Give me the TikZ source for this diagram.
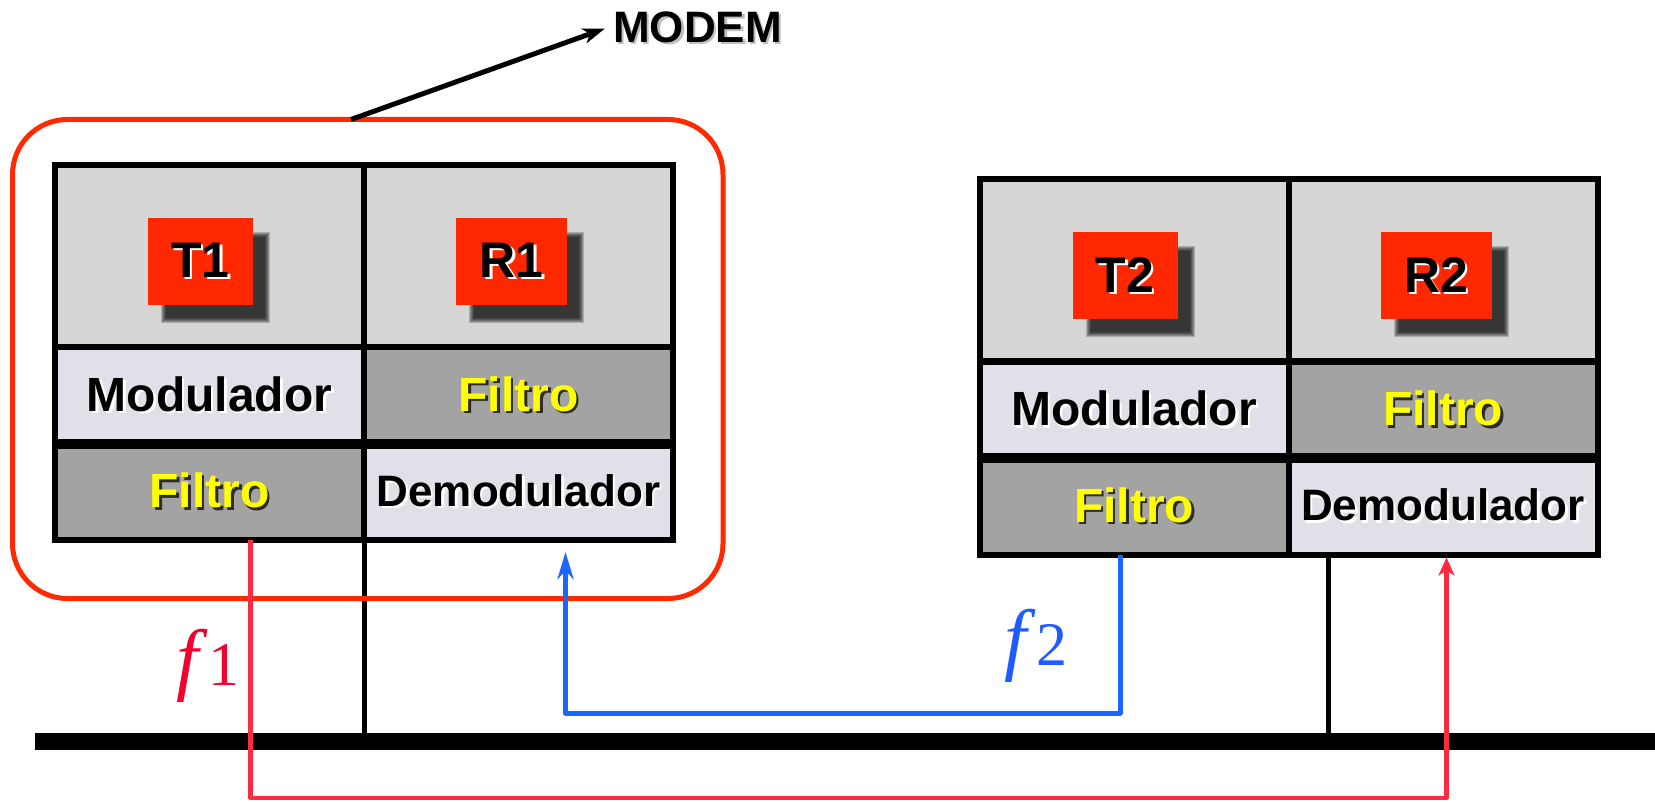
\documentclass[tikz,border=0pt]{standalone}
\usepackage{fontspec}
\setmainfont{Liberation Sans}
\newfontfamily\serifface{Liberation Serif}
\usetikzlibrary{arrows.meta,calc}

\definecolor{boxred}{HTML}{FF2A00}
\definecolor{sqred}{HTML}{FF2800}
\definecolor{linkred}{HTML}{FF2A40}
\definecolor{labred}{HTML}{F2002E}
\definecolor{linkblue}{HTML}{1A66FF}
\definecolor{labblue}{HTML}{1F5CFF}
\definecolor{cellgray}{HTML}{D6D6D6}
\definecolor{celllight}{HTML}{E0E0E8}
\definecolor{celldark}{HTML}{A3A3A3}
\definecolor{textyellow}{HTML}{FFFF00}
\definecolor{shadowdark}{HTML}{2A2A2A}

% text with an offset copy behind it
\newcommand\shd[3]{\leavevmode\rlap{\kern2.5pt\raisebox{-2.5pt}{\color{#2}#3}}{\color{#1}#3}}
% soft shadow under a square: x, y, width, height of the square
\newcommand\sqshadow[4]{%
  \foreach \k in {1,...,6}{%
    \fill[black, opacity=0.2] (#1+12+\k,#2+13+\k) rectangle (#1+#3+18-\k,#2+#4+19-\k);}}
% frequency label: italic f followed by an upright digit
\newcommand\freq[1]{{\fontsize{80}{84}\selectfont\serifface\itshape f}\kern10pt{\fontsize{62}{66}\selectfont\serifface #1}}

\tikzset{
  cell/.style={draw=black, line width=6pt, minimum width=309pt, anchor=north west,
    inner sep=0pt, outer sep=0pt, font=\fontsize{48}{56}\selectfont\bfseries},
  demo/.style={font=\fontsize{44}{52}\selectfont\bfseries},
  rowsep/.style={draw=black, line width=10pt},
  sq/.style={fill=sqred, anchor=north west, minimum height=87pt, inner sep=0pt,
    outer sep=0pt, font=\fontsize{50}{58}\selectfont\bfseries},
  tap/.style={draw=black, line width=5pt},
  busline/.style={draw=black, line width=17pt},
  f1line/.style={draw=linkred, line width=4.5pt, line join=round,
    -{Stealth[length=18pt,width=16pt,inset=5pt]}, shorten >=3pt},
  f2line/.style={draw=linkblue, line width=5pt, line join=round,
    -{Stealth[length=27pt,width=16pt,inset=8pt]}, shorten >=12pt},
  callout/.style={draw=black, line width=5pt, -{Stealth[length=22pt,width=15pt,inset=6pt]}},
  flabel/.style={anchor=base west, inner sep=0pt, outer sep=0pt}
}

\begin{document}
\begin{tikzpicture}[x=1pt, y=-1pt]
\useasboundingbox (0,0) rectangle (1655,802);

% ---- left modem block ----
\node[cell, fill=cellgray, minimum height=182pt] (LT) at (55,165) {};
\node[cell, fill=cellgray, minimum height=182pt] (LR) at (364,165) {};
\node[cell, fill=celllight, minimum height=96.5pt] (LM) at (55,347) {\shd{black}{white}{Modulador}};
\node[cell, fill=celldark, minimum height=96.5pt] (LF1) at (364,347) {\shd{textyellow}{shadowdark}{Filtro}};
\node[cell, fill=celldark, minimum height=96.5pt] (LF2) at (55,443.5) {\shd{textyellow}{shadowdark}{Filtro}};
\node[cell, demo, fill=celllight, minimum height=96.5pt] (LD) at (364,443.5) {\shd{black}{white}{Demodulador}};
\draw[rowsep] (LM.south west) -- (LF1.south east);

% ---- right modem block ----
\node[cell, fill=cellgray, minimum height=182pt] (RT) at (979.5,179.5) {};
\node[cell, fill=cellgray, minimum height=182pt] (RR) at (1288.5,179.5) {};
\node[cell, fill=celllight, minimum height=96.5pt] (RM) at (979.5,361.5) {\shd{black}{white}{Modulador}};
\node[cell, fill=celldark, minimum height=96.5pt] (RF1) at (1288.5,361.5) {\shd{textyellow}{shadowdark}{Filtro}};
\node[cell, fill=celldark, minimum height=96.5pt] (RF2) at (979.5,458) {\shd{textyellow}{shadowdark}{Filtro}};
\node[cell, demo, fill=celllight, minimum height=96.5pt] (RD) at (1288.5,458) {\shd{black}{white}{Demodulador}};
\draw[rowsep] (RM.south west) -- (RF1.south east);

% ---- transmitter / receiver tags ----
\sqshadow{148}{218}{105}{87}
\node[sq, minimum width=105pt] (T1) at (148,218) {\shd{black}{white}{T1}};
\sqshadow{456}{218}{111}{87}
\node[sq, minimum width=111pt] (R1) at (456,218) {\shd{black}{white}{R1}};
\sqshadow{1072.5}{232.5}{105}{87}
\node[sq, minimum width=105pt] (T2) at (1072.5,232.5) {\shd{black}{white}{T2}};
\sqshadow{1380.5}{232.5}{111}{87}
\node[sq, minimum width=111pt] (R2) at (1380.5,232.5) {\shd{black}{white}{R2}};

% ---- line taps and bus ----
\coordinate (busW) at (35,741.5);
\coordinate (busE) at (1655,741.5);
\coordinate (rtap) at ($(RD.south west)+(40,0)$);
\draw[tap] (LF2.south east) -- (LF2.south east |- busW);
\draw[tap] (rtap) -- (rtap |- busW);
\draw[busline] (busW) -- (busE);

% ---- modem outline ----
\node[draw=boxred, line width=5pt, rounded corners=55pt, minimum width=710.5pt,
  minimum height=479pt, inner sep=0pt, outer sep=0pt] (modembox) at (367.75,359) {};

% ---- frequency channels ----
\coordinate (f1a) at ($(LF2.south)+(41,0)$);
\coordinate (f1b) at ($(RD.south)+(3.5,0)$);
\draw[f1line] (f1a) -- ++(0,258) -| (f1b);
\coordinate (f2a) at ($(RF2.south)+(-14,0)$);
\coordinate (f2b) at ($(LD.south)+(47,0)$);
\draw[f2line] (f2a) -- ++(0,158.5) -| (f2b);

\node[flabel, text=labred] (f1lbl) at (176,685) {\freq{1}};
\node[flabel, text=labblue] (f2lbl) at (1004,665) {\freq{2}};

% ---- MODEM callout ----
\node[anchor=west, inner sep=8pt, font=\fontsize{44}{52}\selectfont\bfseries] (modem) at (605,28.5)
  {\shd{black}{black!25}{MODEM}};
\coordinate (mtail) at (351,119.5);
\draw[callout] (mtail) -- (modem.west);
\end{tikzpicture}
\end{document}
